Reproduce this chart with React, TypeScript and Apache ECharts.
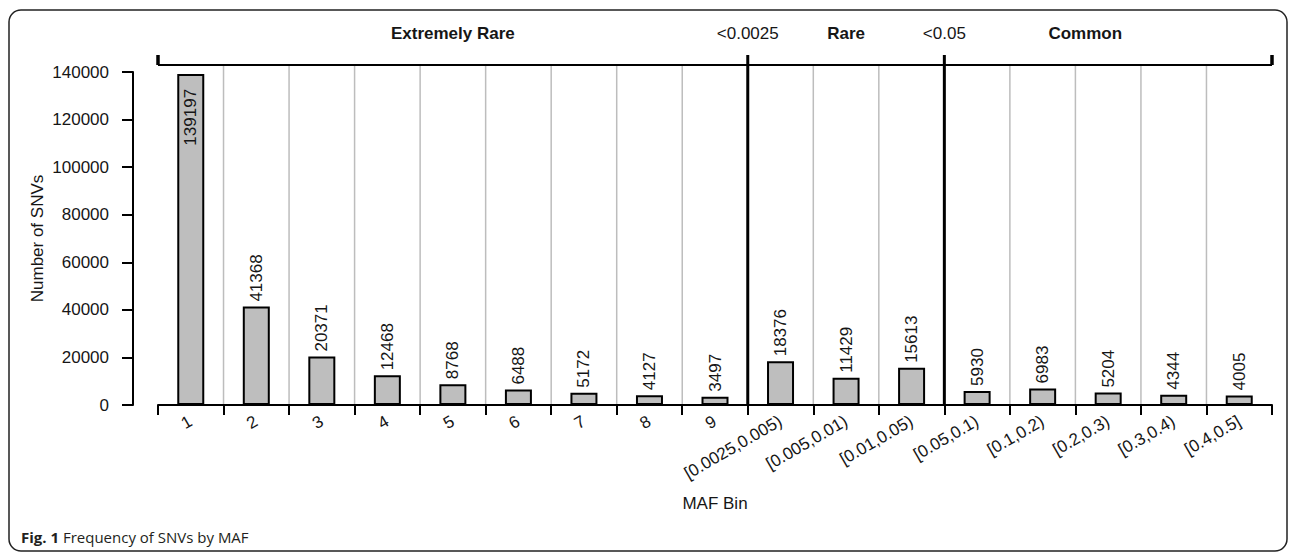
import React, { useEffect, useRef } from 'react';
import * as echarts from 'echarts';

const categories = [
  '1', '2', '3', '4', '5', '6', '7', '8', '9',
  '[0.0025,0.005)', '[0.005,0.01)', '[0.01,0.05)',
  '[0.05,0.1)', '[0.1,0.2)', '[0.2,0.3)', '[0.3,0.4)', '[0.4,0.5]',
];
const counts = [
  139197, 41368, 20371, 12468, 8768, 6488, 5172, 4127, 3497,
  18376, 11429, 15613,
  5930, 6983, 5204, 4344, 4005,
];
const yMin = 0;
const yMax = 140000;
const yInterval = 20000;

// Group headings above the bracket, positioned in category-boundary units
const groupNames = ['Extremely Rare', 'Rare', 'Common'];
const groupPositions = [4.5, 10.5, 14.15];
// Thresholds separating the groups (boundary index)
const thresholdLabels = ['<0.0025', '<0.05'];
const thresholdPositions = [9, 12];

const FONT = 'Liberation Sans, Arial, Helvetica, sans-serif';
const CAPTION_FONT = 'Open Sans, Noto Sans, sans-serif';
const TXT = '#161616';

export default function App() {
  const ref = useRef<HTMLDivElement>(null);

  useEffect(() => {
    const chart = echarts.init(ref.current as HTMLDivElement, null, { renderer: 'svg' });

    const option: any = {
      animation: false,
      backgroundColor: '#ffffff',
      textStyle: { fontFamily: FONT },
      grid: { left: 158, right: 24, top: 72, bottom: 155, containLabel: false },
      xAxis: {
        type: 'category',
        data: categories,
        boundaryGap: true,
        axisLine: { show: true, lineStyle: { color: '#000', width: 2 } },
        axisTick: { show: true, interval: 0, length: 10, lineStyle: { color: '#000', width: 2 } },
        axisLabel: {
          interval: 0, rotate: 30, margin: 15, fontSize: 17, color: TXT, fontFamily: FONT,
        },
        splitLine: { show: false },
      },
      yAxis: {
        type: 'value',
        min: yMin,
        max: yMax,
        interval: yInterval,
        offset: 25,
        axisLine: { show: true, lineStyle: { color: '#000', width: 2 } },
        axisTick: { show: true, length: 11, lineStyle: { color: '#000', width: 2 } },
        axisLabel: {
          margin: 24, fontSize: 17, color: TXT, fontFamily: FONT,
          formatter: (v: number) => String(v),
        },
        splitLine: { show: false },
      },
      series: [
        {
          type: 'bar',
          barWidth: 27,
          data: counts.map((v, i) => ({
            value: v,
            label: i === 0
              ? { position: 'insideTop', distance: 15, rotate: 90, align: 'right', verticalAlign: 'middle' }
              : { position: 'top', distance: 5, rotate: 90, align: 'left', verticalAlign: 'middle' },
          })),
          itemStyle: { color: '#bebebe', borderColor: '#000', borderWidth: 2 },
          label: { show: true, fontSize: 17, color: TXT, fontFamily: FONT },
        },
      ],
    };

    chart.setOption(option);

    const c0 = chart.convertToPixel({ xAxisIndex: 0 }, 0) as number;
    const c1 = chart.convertToPixel({ xAxisIndex: 0 }, 1) as number;
    const band = c1 - c0;
    const b = (k: number) => c0 - band / 2 + k * band;
    const y0 = chart.convertToPixel({ yAxisIndex: 0 }, yMin) as number;
    const yTop = chart.convertToPixel({ yAxisIndex: 0 }, yMax) as number;
    const bracketY = yTop - 7;
    const n = categories.length;

    const elements: any[] = [];
    // frame
    elements.push({
      type: 'rect',
      shape: { x: 9, y: 10, width: 1278, height: 541, r: 12 },
      style: { fill: 'none', stroke: '#222', lineWidth: 1.5 },
      silent: true,
    });
    // gray separators
    for (let k = 1; k < n; k++) {
      if (thresholdPositions.includes(k)) continue;
      elements.push({
        type: 'line',
        shape: { x1: b(k), y1: bracketY, x2: b(k), y2: y0 },
        style: { stroke: '#bdbdbd', lineWidth: 1.5 },
        z: -1,
      });
    }
    // threshold lines
    thresholdPositions.forEach((k) => {
      elements.push({
        type: 'line',
        shape: { x1: b(k), y1: bracketY - 10, x2: b(k), y2: y0 },
        style: { stroke: '#000', lineWidth: 3 },
      });
    });
    // bracket
    elements.push({
      type: 'line',
      shape: { x1: b(0), y1: bracketY, x2: b(n), y2: bracketY },
      style: { stroke: '#000', lineWidth: 2 },
    });
    [0, n].forEach((k) => {
      elements.push({
        type: 'line',
        shape: { x1: b(k), y1: bracketY - 10, x2: b(k), y2: bracketY },
        style: { stroke: '#000', lineWidth: 3.5 },
      });
    });
    // headings
    groupNames.forEach((name, i) => {
      elements.push({
        type: 'text',
        x: b(groupPositions[i]),
        y: 33,
        style: {
          text: name, fontSize: 17, fontWeight: 'bold', fill: TXT, fontFamily: FONT,
          align: 'center', verticalAlign: 'middle',
        },
      });
    });
    thresholdLabels.forEach((t, i) => {
      elements.push({
        type: 'text',
        x: b(thresholdPositions[i]),
        y: 33,
        style: {
          text: t, fontSize: 17, fill: TXT, fontFamily: FONT,
          align: 'center', verticalAlign: 'middle',
        },
      });
    });
    // y axis name
    elements.push({
      type: 'text',
      x: 37,
      y: (y0 + yTop) / 2,
      rotation: Math.PI / 2,
      style: {
        text: 'Number of SNVs', fontSize: 17, fill: TXT, fontFamily: FONT,
        align: 'center', verticalAlign: 'middle',
      },
    });
    // x axis name
    elements.push({
      type: 'text',
      x: (b(0) + b(n)) / 2,
      y: 503,
      style: {
        text: 'MAF Bin', fontSize: 17, fill: TXT, fontFamily: FONT,
        align: 'center', verticalAlign: 'middle',
      },
    });
    // caption
    elements.push({
      type: 'text',
      x: 21,
      y: 537,
      style: {
        text: '{b|Fig. 1} Frequency of SNVs by MAF',
        fontSize: 15, fill: '#231f20', fontFamily: CAPTION_FONT,
        verticalAlign: 'middle', align: 'left',
        rich: {
          b: { fontSize: 15, fontWeight: 'bold', fill: '#231f20', fontFamily: CAPTION_FONT },
        },
      },
    });

    chart.setOption({ graphic: { elements } });

    return () => chart.dispose();
  }, []);

  return (
    <div
      ref={ref}
      style={{ position: 'fixed', left: 0, top: 0, width: 1296, height: 560, background: '#fff' }}
    />
  );
}
